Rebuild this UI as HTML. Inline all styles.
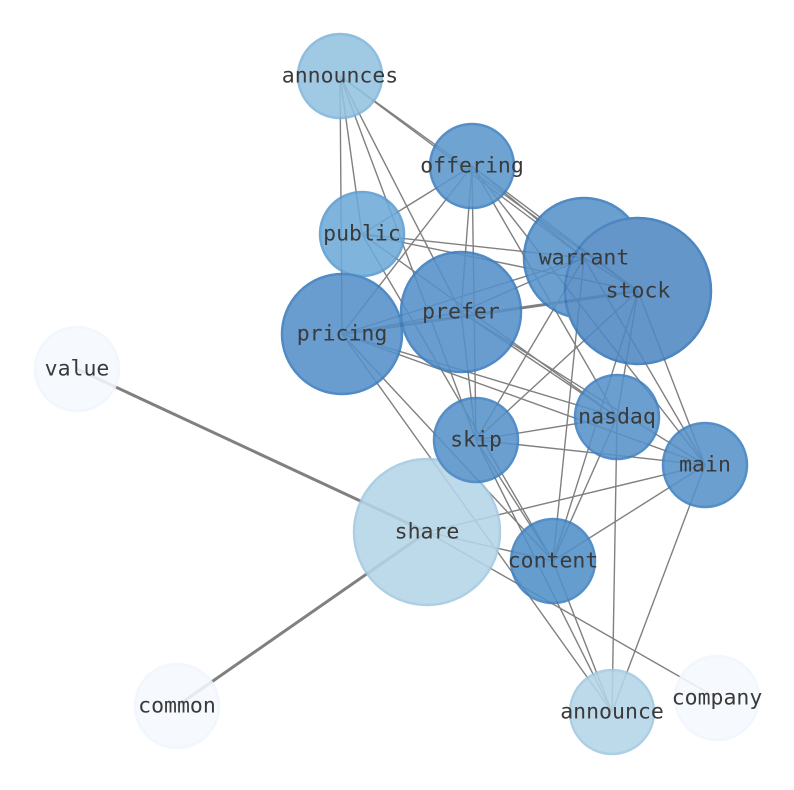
<!DOCTYPE html>
<html><head><meta charset="utf-8"><style>html,body{margin:0;padding:0;background:#fff}svg{display:block}</style></head><body>
<svg width="794" height="790" viewBox="0 0 794 790" xmlns="http://www.w3.org/2000/svg">
<g stroke="#808080" stroke-width="1.4" fill="none">
<line x1="340" y1="76" x2="362" y2="234"/><line x1="340" y1="76" x2="342" y2="334"/>
<line x1="340" y1="76" x2="584" y2="258"/><line x1="340" y1="76" x2="638" y2="291"/>
<line x1="340" y1="76" x2="461" y2="312"/><line x1="340" y1="76" x2="476" y2="440"/>
<line x1="472" y1="166" x2="362" y2="234"/><line x1="472" y1="166" x2="342" y2="334"/>
<line x1="472" y1="166" x2="461" y2="312"/><line x1="472" y1="166" x2="584" y2="258"/>
<line x1="472" y1="166" x2="638" y2="291"/><line x1="472" y1="166" x2="705" y2="465"/>
<line x1="472" y1="166" x2="617" y2="417"/><line x1="472" y1="166" x2="476" y2="440"/>
<line x1="362" y1="234" x2="584" y2="258"/><line x1="362" y1="234" x2="638" y2="291"/>
<line x1="362" y1="234" x2="617" y2="417"/><line x1="362" y1="234" x2="553" y2="561"/>
<line x1="342" y1="334" x2="461" y2="312"/><line x1="342" y1="334" x2="584" y2="258"/>
<line x1="342" y1="334" x2="617" y2="417"/><line x1="342" y1="334" x2="705" y2="465"/>
<line x1="342" y1="334" x2="553" y2="561"/><line x1="342" y1="334" x2="612" y2="712"/>
<line x1="461" y1="312" x2="584" y2="258"/><line x1="461" y1="312" x2="476" y2="440"/>
<line x1="461" y1="312" x2="705" y2="465"/><line x1="461" y1="312" x2="617" y2="417"/>
<line x1="584" y1="258" x2="638" y2="291"/><line x1="584" y1="258" x2="476" y2="440"/>
<line x1="584" y1="258" x2="553" y2="561"/><line x1="584" y1="258" x2="705" y2="465"/>
<line x1="638" y1="291" x2="617" y2="417"/><line x1="638" y1="291" x2="705" y2="465"/>
<line x1="638" y1="291" x2="476" y2="440"/><line x1="638" y1="291" x2="553" y2="561"/>
<line x1="617" y1="417" x2="476" y2="440"/><line x1="617" y1="417" x2="553" y2="561"/>
<line x1="617" y1="417" x2="612" y2="712"/>
<line x1="476" y1="440" x2="705" y2="465"/><line x1="476" y1="440" x2="553" y2="561"/>
<line x1="476" y1="440" x2="612" y2="712"/>
<line x1="705" y1="465" x2="427" y2="532"/><line x1="705" y1="465" x2="553" y2="561"/>
<line x1="705" y1="465" x2="612" y2="712"/>
<line x1="427" y1="532" x2="553" y2="561"/><line x1="427" y1="532" x2="717" y2="698"/>
<line x1="553" y1="561" x2="612" y2="712"/>
</g>
<g stroke="#808080" stroke-width="3" fill="none">
<line x1="342" y1="334" x2="638" y2="291"/>
<line x1="427" y1="532" x2="77" y2="369"/>
<line x1="427" y1="532" x2="177" y2="706"/>
</g>
<g stroke-width="2.5" opacity="0.88">
<circle cx="340" cy="76" r="42" fill="#93c2e0" stroke="#7fb4da"/>
<circle cx="77" cy="369" r="42" fill="#f5f9fe" stroke="#f0f6fd"/>
<circle cx="177" cy="706" r="42" fill="#f5f9fe" stroke="#f0f6fd"/>
<circle cx="717" cy="698" r="42" fill="#f5f9fe" stroke="#f0f6fd"/>
<circle cx="427" cy="532" r="73" fill="#b5d5e8" stroke="#a2c9e2"/>
<circle cx="612" cy="712" r="42" fill="#b5d5e8" stroke="#a2c9e2"/>
<circle cx="362" cy="234" r="42" fill="#6eaad8" stroke="#5a9cd0"/>
<circle cx="472" cy="166" r="42" fill="#5c98cc" stroke="#3f80c0"/>
<circle cx="342" cy="334" r="60" fill="#5590c9" stroke="#3a7cbe"/>
<circle cx="461" cy="312" r="60" fill="#5690c9" stroke="#3a7cbe"/>
<circle cx="584" cy="258" r="60" fill="#5692c9" stroke="#3a7cbe"/>
<circle cx="638" cy="291" r="73" fill="#4f88c2" stroke="#3576b8"/>
<circle cx="617" cy="417" r="42" fill="#5692c9" stroke="#3f80c0"/>
<circle cx="476" cy="440" r="42" fill="#5692c9" stroke="#3f80c0"/>
<circle cx="705" cy="465" r="42" fill="#5692c9" stroke="#3f80c0"/>
<circle cx="553" cy="561" r="42" fill="#5290c9" stroke="#3f80c0"/>
</g>
<g font-family="'DejaVu Sans Mono','Liberation Mono',monospace" font-size="21.5" fill="#3a3a3a" text-anchor="middle" dominant-baseline="central">
<text x="340" y="76">announces</text><text x="472" y="166">offering</text>
<text x="362" y="234">public</text><text x="584" y="258">warrant</text>
<text x="638" y="291">stock</text><text x="461" y="312">prefer</text>
<text x="342" y="334">pricing</text><text x="77" y="369">value</text>
<text x="617" y="417">nasdaq</text><text x="476" y="440">skip</text>
<text x="705" y="465">main</text><text x="427" y="532">share</text>
<text x="553" y="561">content</text><text x="177" y="706">common</text>
<text x="612" y="712">announce</text><text x="717" y="698">company</text>
</g>
</svg>
</body></html>
